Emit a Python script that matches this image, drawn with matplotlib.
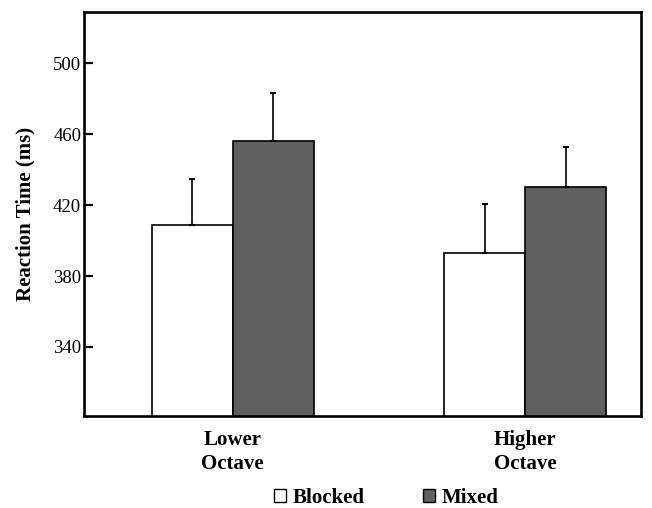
import matplotlib
matplotlib.use("Agg")
import matplotlib.pyplot as plt
from matplotlib.patches import Rectangle
import numpy as np

plt.rcParams['font.family'] = ['Liberation Serif', 'DejaVu Serif']

# data
groups = ['Lower\nOctave', 'Higher\nOctave']
blocked = [408.7, 392.8]
mixed = [456.4, 430.4]
blocked_err = [26.2, 27.8]
mixed_err = [27.0, 22.5]
yticks = [340, 380, 420, 460, 500]

fig = plt.figure(figsize=(6.52, 5.08), dpi=100)
ax = fig.add_axes([0.1288, 0.181, 0.8543, 0.7954])

g = np.array([0.0, 3.61])
w = 1.0
ax.bar(g - w / 2, blocked, w, bottom=0, color='white', edgecolor='black', linewidth=1.2, zorder=2)
ax.bar(g + w / 2, mixed, w, bottom=0, color='#606060', edgecolor='black', linewidth=1.2, zorder=2)
ax.errorbar(g - w / 2, blocked, yerr=[[0, 0], blocked_err], fmt='none', ecolor='black',
            elinewidth=1.2, capsize=2.2, capthick=1.5, zorder=3)
ax.errorbar(g + w / 2, mixed, yerr=[[0, 0], mixed_err], fmt='none', ecolor='black',
            elinewidth=1.2, capsize=2.2, capthick=1.5, zorder=3)

ax.set_xlim(-1.836, 5.041)
ax.set_ylim(301, 529)
ax.set_yticks(yticks)
ax.set_yticklabels([str(t) for t in yticks], fontsize=13.5)
ax.set_xticks(g)
ax.set_xticklabels(groups, fontsize=15, fontweight='bold', linespacing=1.3)
ax.tick_params(axis='x', length=0, pad=10)
ax.tick_params(axis='y', direction='in', length=6.5, width=1.6, pad=2)
for s in ax.spines.values():
    s.set_linewidth(1.9)
ax.set_ylabel('Reaction Time (ms)', fontsize=15, fontweight='bold', labelpad=13)

handles = [Rectangle((0, 0), 1, 1, facecolor='white', edgecolor='black', linewidth=1),
           Rectangle((0, 0), 1, 1, facecolor='#606060', edgecolor='black', linewidth=1)]
fig.legend(handles, ['Blocked', 'Mixed'], loc='center', bbox_to_anchor=(0.592, 0.02),
           ncol=2, frameon=False, handlelength=0.6, handleheight=0.6, handletextpad=0.3,
           columnspacing=2.8, prop={'size': 15, 'weight': 'bold'})

fig.savefig('out.png', dpi=100)
